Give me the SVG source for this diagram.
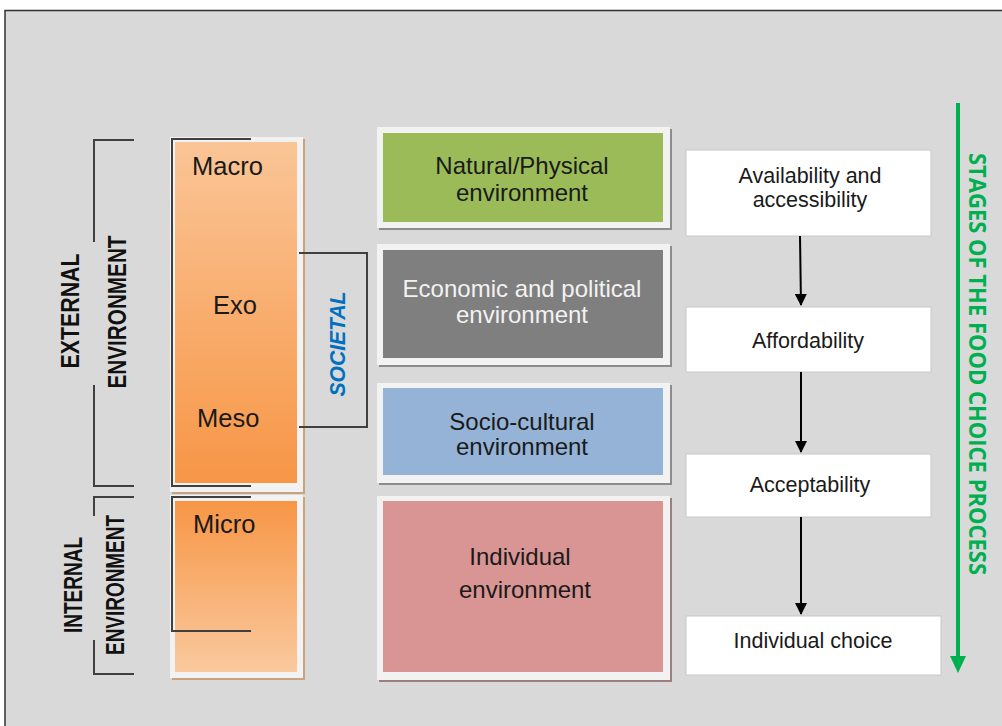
<svg xmlns="http://www.w3.org/2000/svg" width="1002" height="726" viewBox="0 0 1002 726">
  <defs>
    <style>
      .lbl { font-family: "Liberation Sans", Arial, sans-serif; fill: #1a1a1a; }
      .mid { font-size: 24px; text-anchor: middle; }
      .lvl { font-size: 25.5px; }
      .step { font-size: 21.5px; text-anchor: middle; }
      .side { font-family: "Liberation Sans", Arial, sans-serif; font-weight: bold; font-size: 26px; fill: #111; text-anchor: middle; }
      .brk { fill: none; stroke: #404040; stroke-width: 2; }
      .frame { fill: #f2f2f2; }
      .stepbox { fill: #ffffff; stroke: #c8c8c8; stroke-width: 1; }
      .flow { stroke: #000; stroke-width: 2; fill: none; }
    </style>
    <linearGradient id="peachDown" x1="0" y1="0" x2="0" y2="1">
      <stop offset="0" stop-color="#fac597"/>
      <stop offset="1" stop-color="#f79646"/>
    </linearGradient>
    <linearGradient id="peachUp" x1="0" y1="0" x2="0" y2="1">
      <stop offset="0" stop-color="#f79646"/>
      <stop offset="1" stop-color="#fac99e"/>
    </linearGradient>
    <marker id="tri" viewBox="0 0 12 12" refX="11" refY="6" markerWidth="6" markerHeight="6" orient="auto" markerUnits="strokeWidth">
      <path d="M0,0 L12,6 L0,12 z" fill="#000"/>
    </marker>
  </defs>

  <!-- page background and frame -->
  <rect x="0" y="0" width="1002" height="726" fill="#ffffff"/>
  <rect x="5" y="10.5" width="1010" height="730" fill="#d9d9d9" stroke="#333" stroke-width="1.5"/>

  <!-- external / internal side labels with brackets -->
  <g id="external-env">
    <path class="brk" d="M134,140 H94 V242 M94,385 V486 H134"/>
    <text class="side" transform="translate(79,311) rotate(-90)" textLength="115" lengthAdjust="spacingAndGlyphs">EXTERNAL</text>
    <text class="side" transform="translate(126,312) rotate(-90)" textLength="153" lengthAdjust="spacingAndGlyphs">ENVIRONMENT</text>
  </g>
  <g id="internal-env">
    <path class="brk" d="M134,497 H94 V516 M94,640 V674 H134"/>
    <text class="side" transform="translate(82,585) rotate(-90)" textLength="96" lengthAdjust="spacingAndGlyphs">INTERNAL</text>
    <text class="side" transform="translate(124,585) rotate(-90)" textLength="140" lengthAdjust="spacingAndGlyphs">ENVIRONMENT</text>
  </g>

  <!-- ecological levels -->
  <g id="levels-outer">
    <rect x="172" y="139" width="133" height="355" fill="#c9a27e"/>
    <rect class="frame" x="170" y="137" width="133" height="355"/>
    <rect x="175" y="142" width="122" height="341" fill="url(#peachDown)"/>
    <path class="brk" d="M251,139 H172 V486 H251"/>
    <text class="lbl lvl" x="192" y="175">Macro</text>
    <text class="lbl lvl" x="213" y="314">Exo</text>
    <text class="lbl lvl" x="197" y="427">Meso</text>
  </g>
  <g id="levels-micro">
    <rect x="172" y="497" width="133" height="183" fill="#c9a27e"/>
    <rect class="frame" x="170" y="495" width="133" height="183"/>
    <rect x="175" y="501" width="122" height="171" fill="url(#peachUp)"/>
    <path class="brk" d="M251,497 H172 V631 H251"/>
    <text class="lbl lvl" x="193" y="533">Micro</text>
  </g>

  <!-- societal bracket -->
  <g id="societal">
    <path class="brk" d="M299,253 H367 V427 H299"/>
    <text transform="translate(345,344) rotate(-90)" font-family="Liberation Sans, Arial, sans-serif" font-weight="bold" font-style="italic" font-size="22" fill="#0070c0" text-anchor="middle" textLength="105" lengthAdjust="spacingAndGlyphs">SOCIETAL</text>
  </g>

  <!-- environment types -->
  <g id="env-natural">
    <rect x="379" y="129" width="293" height="101" fill="#8c8c8c"/>
    <rect class="frame" x="377" y="127" width="293" height="101"/>
    <rect x="383" y="133" width="280" height="89" fill="#9bbb59"/>
    <text class="lbl mid" x="522" y="174">Natural/Physical</text>
    <text class="lbl mid" x="522" y="201">environment</text>
  </g>
  <g id="env-economic">
    <rect x="379" y="246" width="293" height="121" fill="#8c8c8c"/>
    <rect class="frame" x="377" y="244" width="293" height="121"/>
    <rect x="383" y="250" width="280" height="108" fill="#7f7f7f"/>
    <text class="lbl mid" x="522" y="297" style="fill:#f2f2f2">Economic and political</text>
    <text class="lbl mid" x="522" y="323" style="fill:#f2f2f2">environment</text>
  </g>
  <g id="env-sociocultural">
    <rect x="379" y="385" width="293" height="100" fill="#8c8c8c"/>
    <rect class="frame" x="377" y="383" width="293" height="100"/>
    <rect x="383" y="388" width="280" height="87" fill="#95b3d7"/>
    <text class="lbl mid" x="522" y="430">Socio-cultural</text>
    <text class="lbl mid" x="522" y="455">environment</text>
  </g>
  <g id="env-individual">
    <rect x="379" y="498" width="293" height="184" fill="#9c8080"/>
    <rect class="frame" x="377" y="496" width="293" height="184"/>
    <rect x="383" y="501" width="280" height="171" fill="#d99594"/>
    <text class="lbl mid" x="520" y="565">Individual</text>
    <text class="lbl mid" x="525" y="598">environment</text>
  </g>

  <!-- food choice stages -->
  <g id="stage-availability">
    <rect class="stepbox" x="686" y="150" width="245" height="86"/>
    <text class="lbl step" x="810" y="183">Availability and</text>
    <text class="lbl step" x="810" y="207">accessibility</text>
  </g>
  <g id="stage-affordability">
    <rect class="stepbox" x="686" y="307" width="245" height="65"/>
    <text class="lbl step" x="808" y="348">Affordability</text>
  </g>
  <g id="stage-acceptability">
    <rect class="stepbox" x="686" y="454" width="245" height="63"/>
    <text class="lbl step" x="810" y="492">Acceptability</text>
  </g>
  <g id="stage-choice">
    <rect class="stepbox" x="686" y="616" width="255" height="59"/>
    <text class="lbl step" x="813" y="648">Individual choice</text>
  </g>

  <!-- connectors between stages -->
  <g id="connectors">
    <line class="flow" x1="800" y1="236" x2="801" y2="305" marker-end="url(#tri)"/>
    <line class="flow" x1="801" y1="372" x2="801" y2="452" marker-end="url(#tri)"/>
    <line class="flow" x1="801" y1="517" x2="801" y2="614" marker-end="url(#tri)"/>
  </g>

  <!-- process direction arrow -->
  <g id="process-arrow">
    <line x1="958" y1="103" x2="958" y2="660" stroke="#00b050" stroke-width="4"/>
    <path d="M950,656 L966,656 L958,673 z" fill="#00b050"/>
    <text transform="translate(969,364) rotate(90)" font-family="Open Sans, Liberation Sans, sans-serif" font-weight="bold" font-size="24" fill="#00b050" text-anchor="middle" textLength="422" lengthAdjust="spacingAndGlyphs">STAGES OF THE FOOD CHOICE PROCESS</text>
  </g>
</svg>
